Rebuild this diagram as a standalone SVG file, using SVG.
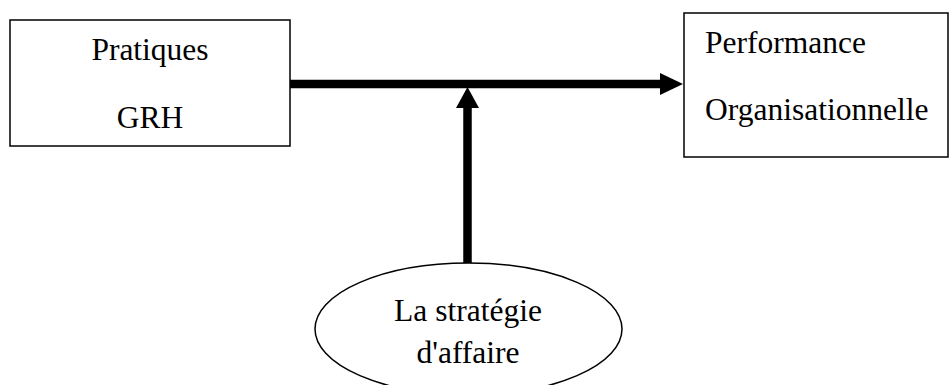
<svg xmlns="http://www.w3.org/2000/svg" width="951" height="385" viewBox="0 0 951 385">
  <style>
    .box { fill: #fff; stroke: #000; stroke-width: 1.5; }
    .lbl { font-family: "Liberation Serif", "Times New Roman", serif; font-size: 31.5px; fill: #000; }
    .mid { text-anchor: middle; }
    .wire { stroke: #000; stroke-width: 8.5; fill: none; }
    .head { fill: #000; }
  </style>
  <rect width="951" height="385" fill="#fff"/>

  <g id="connectors">
    <!-- Pratiques GRH -> Performance Organisationnelle -->
    <line class="wire" x1="290" y1="84" x2="662" y2="84"/>
    <polygon class="head" points="660,73 683,84 660,95"/>
    <!-- strategy moderates the link -->
    <line class="wire" x1="467.5" y1="264" x2="467.5" y2="106"/>
    <polygon class="head" points="456,108 467.5,87 479,108"/>
  </g>

  <g id="pratiques-grh">
    <rect class="box" x="10" y="20" width="280" height="126"/>
    <text class="lbl mid" x="150" y="60">Pratiques</text>
    <text class="lbl mid" x="150" y="128">GRH</text>
  </g>

  <g id="performance">
    <rect class="box" x="684" y="13" width="264" height="144"/>
    <text class="lbl" x="705" y="53">Performance</text>
    <text class="lbl" x="705" y="120">Organisationnelle</text>
  </g>

  <g id="strategie">
    <ellipse class="box" cx="468.5" cy="329" rx="153.5" ry="66"/>
    <text class="lbl mid" x="468" y="321">La stratégie</text>
    <text class="lbl mid" x="468" y="363">d'affaire</text>
  </g>
</svg>
